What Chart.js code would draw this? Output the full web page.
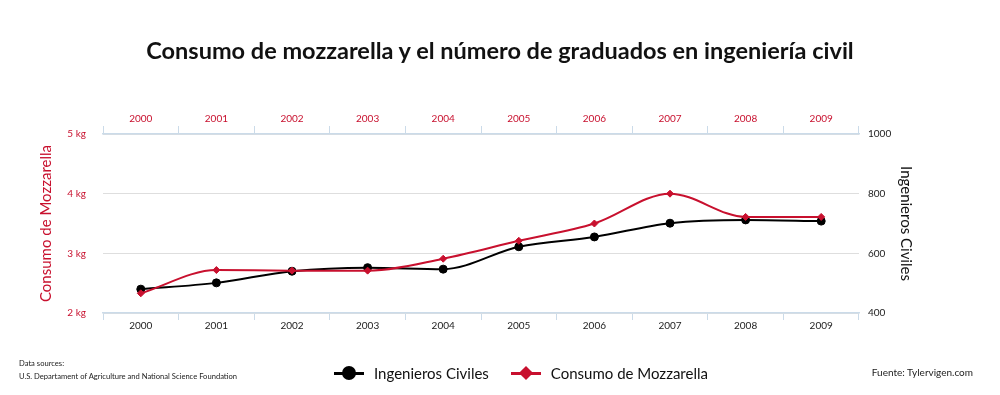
<!DOCTYPE html>
<html>
<head>
<meta charset="utf-8">
<script src="https://cdn.jsdelivr.net/npm/chart.js@4"></script>
<style>
  html, body { margin: 0; padding: 0; background: #fff; }
  #wrap { position: relative; width: 1000px; height: 395px; font-family: Lato, "Open Sans", sans-serif; }
  #chart { position: absolute; left: 0; top: 0; }
  .title { position: absolute; left: 0; width: 1000px; top: 36px; text-align: center; font-weight: bold; font-size: 23.5px; color: #111; }
  .src { position: absolute; left: 19px; top: 357px; font-size: 7.6px; color: #222; line-height: 13px; }
  .fuente { position: absolute; right: 27px; top: 366px; font-size: 10px; color: #222; }
  .legend { position: absolute; top: 363px; left: 334px; font-size: 15px; color: #111; display: flex; align-items: center; }
  .item { display: flex; align-items: center; margin-right: 22px; }
  .sym { position: relative; width: 30px; height: 20px; margin-right: 10px; }
  .sym .ln { position: absolute; left: 0; right: 0; top: 9px; height: 3px; }
  .sym .dot { position: absolute; left: 8px; top: 3px; width: 14px; height: 14px; border-radius: 50%; background: #000; }
  .sym .dia { position: absolute; left: 10px; top: 5px; width: 10px; height: 10px; background: #c8102e; transform: rotate(45deg); }
</style>
</head>
<body>
<div id="wrap">
  <canvas id="chart" width="1000" height="395"></canvas>
  <div class="title">Consumo de mozzarella y el número de graduados en ingeniería civil</div>
  <div class="src">Data sources:<br>U.S. Departament of Agriculture and National Science Foundation</div>
  <div class="legend">
    <div class="item"><div class="sym"><div class="ln" style="background:#000"></div><div class="dot"></div></div>Ingenieros Civiles</div>
    <div class="item"><div class="sym"><div class="ln" style="background:#c8102e"></div><div class="dia"></div></div>Consumo de Mozzarella</div>
  </div>
  <div class="fuente">Fuente: Tylervigen.com</div>
</div>
<script>
const years = ["2000", "2001", "2002", "2003", "2004", "2005", "2006", "2007", "2008", "2009"];
const mozzarella = [2.33, 2.72, 2.71, 2.71, 2.91, 3.21, 3.5, 4.0, 3.61, 3.61];
const ingenieros = [480, 501, 540, 552, 547, 622, 655, 701, 712, 708];
const kgTicks = [2, 3, 4, 5];

const red = "#c8102e";
const axisBlue = "#cbdbe9";
const font = "Lato, 'Open Sans', sans-serif";

new Chart(document.getElementById("chart"), {
  type: "line",
  data: {
    labels: years,
    datasets: [
      {
        label: "Consumo de Mozzarella",
        data: mozzarella,
        yAxisID: "y",
        borderColor: red,
        backgroundColor: red,
        borderWidth: 2,
        pointStyle: "rectRot",
        pointRadius: 3.5,
        pointBorderWidth: 1,
        cubicInterpolationMode: "monotone",
      },
      {
        label: "Ingenieros Civiles",
        data: ingenieros,
        yAxisID: "y1",
        borderColor: "#000",
        backgroundColor: "#000",
        borderWidth: 2,
        pointStyle: "circle",
        pointRadius: 4,
        pointBorderWidth: 1,
        cubicInterpolationMode: "monotone",
      },
    ],
  },
  options: {
    responsive: false,
    animation: false,
    layout: { padding: { left: 37, right: 85, top: 100, bottom: 50 } },
    plugins: { legend: { display: false }, tooltip: { enabled: false } },
    scales: {
      x: {
        position: "bottom",
        offset: true,
        grid: { offset: true, drawOnChartArea: false, tickLength: 7, color: axisBlue },
        border: { color: axisBlue, width: 1.5 },
        ticks: { color: "#222", font: { family: font, size: 10 }, padding: 0, maxRotation: 0 },
        afterFit: (s) => { s.height = 32; },
      },
      x2: {
        position: "top",
        type: "category",
        labels: years,
        offset: true,
        grid: { offset: true, drawOnChartArea: false, tickLength: 8, color: axisBlue },
        border: { color: axisBlue, width: 1.5 },
        ticks: { color: red, font: { family: font, size: 10 }, padding: 1, maxRotation: 0 },
        afterFit: (s) => { s.height = 34; },
      },
      y: {
        position: "left",
        min: 2,
        max: 5,
        afterBuildTicks: (s) => { s.ticks = kgTicks.map((v) => ({ value: v })); },
        grid: { color: "#dedede", drawTicks: false },
        border: { display: false },
        ticks: { color: red, font: { family: font, size: 10 }, padding: 17, callback: (v) => v + " kg" },
        title: { display: true, text: "Consumo de Mozzarella", color: red, font: { family: font, size: 15 }, padding: 0 },
        afterFit: (s) => { s.width = 66; },
      },
      y1: {
        position: "right",
        min: 400,
        max: 1000,
        ticks: { stepSize: 200, color: "#222", font: { family: font, size: 10 }, padding: 9, callback: (v) => String(v) },
        grid: { drawOnChartArea: false, drawTicks: false },
        border: { display: false },
        title: { display: true, text: "Ingenieros Civiles", color: "#111", font: { family: font, size: 15 }, padding: 0 },
        afterFit: (s) => { s.width = 56; },
      },
    },
  },
});
</script>
</body>
</html>
